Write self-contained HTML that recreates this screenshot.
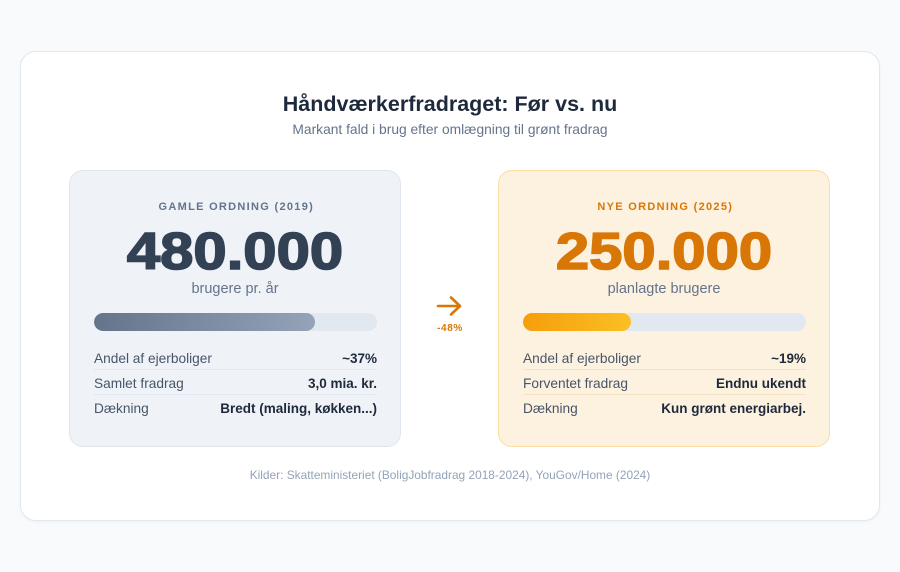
<!DOCTYPE html>
<html>
<head>
<meta charset="utf-8">
<style>
  html,body{margin:0;padding:0;}
  body{width:900px;height:572px;background:#f8fafc;position:relative;overflow:hidden;font-family:"Liberation Sans",Arial,sans-serif;}
  .card{position:absolute;left:20px;top:51px;width:858px;height:468px;background:#fff;border:1px solid #e2e8f0;border-radius:16px;box-shadow:0 1px 3px rgba(15,23,42,0.04);}
  .abs{position:absolute;white-space:nowrap;}
  .title{left:0;width:900px;top:91px;text-align:center;font-size:21.5px;line-height:26px;font-weight:bold;color:#1e293b;}
  .sub{left:0;width:900px;top:121.5px;text-align:center;font-size:13.8px;line-height:16px;color:#64748b;}
  .panel{position:absolute;top:170px;width:330px;height:275px;border-radius:14px;}
  .p1{left:69px;background:#eff3f8;border:1px solid #dfe5ee;}
  .p2{left:498px;background:#fdf1e0;border:1px solid #fbdca3;}
  .lab{left:0;width:330px;top:29px;text-align:center;font-size:11px;line-height:14px;font-weight:bold;letter-spacing:1.3px;padding-left:1.3px;}
  .big{left:0;width:330px;top:51px;text-align:center;font-size:52px;line-height:60px;font-weight:bold;transform:scaleX(1.15);transform-origin:165px 30px;-webkit-text-stroke:1.6px currentColor;}
  .unit{left:0;width:330px;top:110px;text-align:center;font-size:14.5px;line-height:16px;color:#64748b;}
  .track{left:24px;top:142px;width:283px;height:18px;border-radius:9px;background:#e2e8f0;overflow:hidden;}
  .fill{position:absolute;left:0;top:0;height:18px;border-radius:9px;}
  .row{left:24px;width:283px;font-size:13.7px;line-height:16px;color:#475569;}
  .row b{position:absolute;right:0;top:0;color:#1e293b;font-size:13.5px;}
  .div{left:24px;width:283px;height:1px;background:#e2e8f0;}
  .p2 .div{background:#f6e3c4;}
</style>
</head>
<body>
<div class="card"></div>
<div class="abs title">Håndværkerfradraget: Før vs. nu</div>
<div class="abs sub">Markant fald i brug efter omlægning til grønt fradrag</div>

<div class="panel p1">
  <div class="abs lab" style="color:#64748b;">GAMLE ORDNING (2019)</div>
  <div class="abs big" style="color:#334155;">480.000</div>
  <div class="abs unit">brugere pr. år</div>
  <div class="abs track"><div class="fill" style="width:221px;background:linear-gradient(90deg,#64748b,#94a3b8);"></div></div>
  <div class="abs row" style="top:179.5px;">Andel af ejerboliger<b>~37%</b></div>
  <div class="abs div" style="top:198px;"></div>
  <div class="abs row" style="top:204.5px;">Samlet fradrag<b>3,0 mia. kr.</b></div>
  <div class="abs div" style="top:223px;"></div>
  <div class="abs row" style="top:229.5px;">Dækning<b>Bredt (maling, køkken...)</b></div>
</div>

<svg class="abs" style="left:436px;top:294px;" width="28" height="24" viewBox="0 0 28 24">
  <path d="M2 12 H24 M15 3.5 L24 12 L15 20.5" fill="none" stroke="#d97706" stroke-width="2.6" stroke-linecap="round" stroke-linejoin="round"/>
</svg>
<div class="abs" style="left:420px;width:60px;top:322px;text-align:center;font-size:10px;line-height:13px;font-weight:bold;color:#d97706;letter-spacing:0.6px;">-48%</div>

<div class="panel p2">
  <div class="abs lab" style="color:#d97706;">NYE ORDNING (2025)</div>
  <div class="abs big" style="color:#d97706;">250.000</div>
  <div class="abs unit">planlagte brugere</div>
  <div class="abs track"><div class="fill" style="width:108px;background:linear-gradient(90deg,#f59e0b,#fbbf24);"></div></div>
  <div class="abs row" style="top:179.5px;">Andel af ejerboliger<b>~19%</b></div>
  <div class="abs div" style="top:198px;"></div>
  <div class="abs row" style="top:204.5px;">Forventet fradrag<b>Endnu ukendt</b></div>
  <div class="abs div" style="top:223px;"></div>
  <div class="abs row" style="top:229.5px;">Dækning<b>Kun grønt energiarbej.</b></div>
</div>

<div class="abs" style="left:0;width:900px;top:468px;text-align:center;font-size:11.9px;line-height:14px;color:#94a3b8;">Kilder: Skatteministeriet (BoligJobfradrag 2018-2024), YouGov/Home (2024)</div>
</body>
</html>
